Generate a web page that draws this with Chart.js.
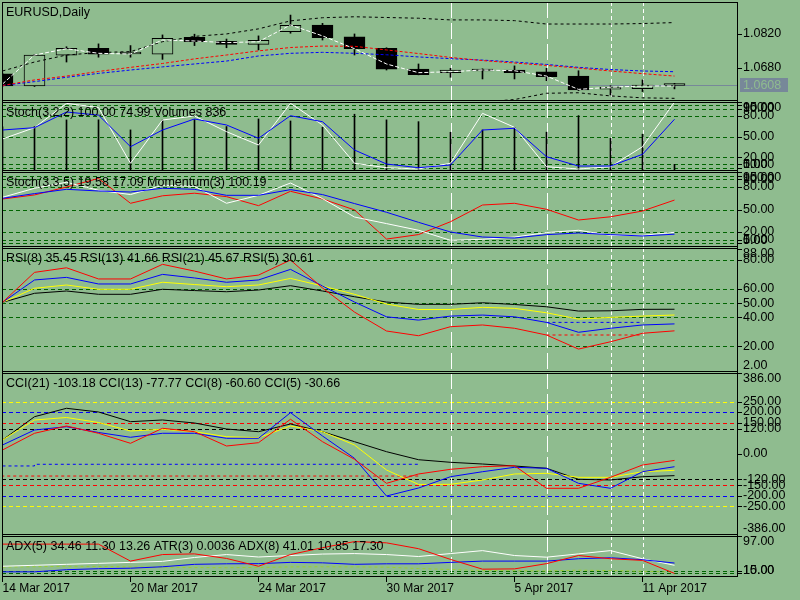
<!DOCTYPE html>
<html>
<head>
<meta charset="utf-8">
<title>EURUSD Daily</title>
<script src="https://cdn.jsdelivr.net/npm/chart.js@4.4.1/dist/chart.umd.min.js"></script>
<style>
  html, body { margin: 0; padding: 0; background: #8fbc8f; }
  #wrap { position: relative; width: 800px; height: 600px; overflow: hidden; }
  #wrap canvas { position: absolute; left: 0; }
  .edge { position: absolute; top: 2px; width: 1px; height: 575px; background: #000; }
</style>
</head>
<body>
<div id="wrap">
  <div class="edge" style="left:2px"></div>
  <div class="edge" style="left:737px"></div>
  <canvas id="main" width="800" height="99" style="top:2px"></canvas>
  <canvas id="stoch1" width="800" height="69" style="top:102px"></canvas>
  <canvas id="stoch2" width="800" height="75" style="top:172px"></canvas>
  <canvas id="rsi" width="800" height="124" style="top:248px"></canvas>
  <canvas id="cci" width="800" height="162" style="top:373px"></canvas>
  <canvas id="adx" width="800" height="64" style="top:536px"></canvas>
</div>
<script>
// ---- data ----
var dates = ['14 Mar 2017', '15 Mar 2017', '16 Mar 2017', '17 Mar 2017', '20 Mar 2017', '21 Mar 2017',
  '22 Mar 2017', '23 Mar 2017', '24 Mar 2017', '27 Mar 2017', '28 Mar 2017', '29 Mar 2017',
  '30 Mar 2017', '31 Mar 2017', '3 Apr 2017', '4 Apr 2017', '5 Apr 2017', '6 Apr 2017',
  '7 Apr 2017', '10 Apr 2017', '11 Apr 2017', '12 Apr 2017'];
var dateTicks = [0, 4, 8, 12, 16, 20];
var sepLong = [14, 17];
var sepShort = [19, 20];

var open  = [1.0655, 1.0605, 1.0732, 1.0761, 1.0737, 1.0736, 1.0806, 1.0790, 1.0777, 1.0829, 1.0857,
             1.0808, 1.0761, 1.0675, 1.0660, 1.0667, 1.0671, 1.0663, 1.0646, 1.0592, 1.0594, 1.0607];
var high  = [1.0658, 1.0735, 1.0767, 1.0779, 1.0772, 1.0816, 1.0819, 1.0799, 1.0812, 1.0898, 1.0864,
             1.0820, 1.0763, 1.0696, 1.0678, 1.0676, 1.0688, 1.0678, 1.0668, 1.0606, 1.0630, 1.0616];
var low   = [1.0603, 1.0603, 1.0704, 1.0724, 1.0724, 1.0715, 1.0772, 1.0763, 1.0754, 1.0823, 1.0795,
             1.0733, 1.0671, 1.0651, 1.0641, 1.0634, 1.0634, 1.0627, 1.0586, 1.0568, 1.0582, 1.0593];
var close = [1.0605, 1.0733, 1.0761, 1.0736, 1.0738, 1.0802, 1.0788, 1.0777, 1.0794, 1.0856, 1.0805,
             1.0759, 1.0674, 1.0652, 1.0671, 1.0675, 1.0660, 1.0644, 1.0589, 1.0600, 1.0609, 1.0608];
var maFast = [1.0613, 1.0733, 1.0759, 1.0740, 1.0737, 1.0795, 1.0791, 1.0784, 1.0788, 1.0857, 1.0812,
              1.0759, 1.0696, 1.0660, 1.0664, 1.0671, 1.0668, 1.0646, 1.0591, 1.0600, 1.0605, 1.0605];
var maMid  = [1.0607, 1.0630, 1.0646, 1.0665, 1.0682, 1.0698, 1.0717, 1.0733, 1.0750, 1.0764, 1.0770,
              1.0769, 1.0754, 1.0739, 1.0723, 1.0710, 1.0700, 1.0690, 1.0679, 1.0667, 1.0656, 1.0646];
var maSlow = [1.0607, 1.0623, 1.0641, 1.0657, 1.0671, 1.0684, 1.0696, 1.0708, 1.0729, 1.0740, 1.0744,
              1.0740, 1.0734, 1.0725, 1.0718, 1.0712, 1.0704, 1.0694, 1.0682, 1.0673, 1.0667, 1.0664];
var bandUpper = [1.0667, 1.0704, 1.0733, 1.0743, 1.0747, 1.0788, 1.0810, 1.0820, 1.0841, 1.0874, 1.0887,
                 1.0891, 1.0888, 1.0885, 1.0878, 1.0878, 1.0875, 1.0861, 1.0861, 1.0861, 1.0863, 1.0867];
var bandLower = [1.0531, 1.0506, 1.0489, 1.0481, 1.0473, 1.0465, 1.0456, 1.0456, 1.0465, 1.0473, 1.0481,
                 1.0489, 1.0498, 1.0514, 1.0527, 1.0539, 1.0549, 1.0575, 1.0577, 1.0564, 1.0556, 1.0554];
var lastPrice = 1.0608;
var priceTicks = [1.0820, 1.0680];

var stochFastMain   = [46.4, 62.8, 98.0, 92.0, 11.2, 73.9, 79.7, 57.0, 37.7, 98.1, 66.7,
                       11.2, 4.8, 2.9, 11.2, 83.6, 63.3, 6.2, 2.9, 6.2, 35.2, 100.00];
var stochFastSignal = [59.4, 62.8, 85.5, 81.0, 35.2, 59.4, 75.4, 66.7, 47.4, 80.1, 71.4,
                       30.4, 10.1, 4.8, 8.7, 59.4, 61.9, 20.7, 7.2, 7.2, 24.2, 74.99];
var volumes = [5512, 5538, 6376, 6391, 5127, 6368, 6402, 5545, 6497, 6243, 5462,
               7086, 6384, 6158, 4837, 5131, 5458, 4846, 6912, 4087, 4593, 836];

var stochMain   = [66.3, 78.3, 86.3, 75.6, 69.9, 82.3, 80.9, 58.3, 68.9, 85.3, 64.5,
                   40.0, 31.2, 22.3, 8.9, 10.3, 13.3, 19.2, 22.3, 15.6, 15.6, 19.58];
var stochSignal = [64.9, 71.2, 76.9, 74.7, 73.3, 78.3, 76.9, 68.9, 68.9, 76.5, 69.9,
                   57.9, 46.3, 32.9, 20.0, 13.3, 12.0, 16.5, 18.7, 16.5, 14.7, 17.09];
var momentum    = [100.24, 100.43, 100.80, 101.20, 100.04, 100.39, 100.51, 100.35, 99.93, 100.60, 100.24,
                   99.73, 98.37, 98.58, 99.18, 99.96, 100.04, 99.76, 99.26, 99.41, 99.68, 100.19];
var oscTicks  = [100, 95, 90, 80, 50, 20, 10, 5, 0];
var oscLevels = [95, 90, 80, 50, 20, 10, 5];

var rsi5  = [50.5, 71.4, 74.6, 66.8, 66.8, 77.0, 72.3, 66.8, 69.5, 80.0, 60.5,
             43.7, 30.5, 27.2, 33.5, 34.7, 32.4, 27.7, 17.9, 23.0, 28.9, 30.61];
var rsi8  = [50.5, 66.1, 67.9, 63.3, 63.3, 70.0, 67.5, 64.5, 66.1, 73.5, 61.9,
             50.7, 40.4, 38.1, 40.9, 41.6, 40.4, 36.5, 29.6, 32.4, 34.7, 35.45];
var rsi13 = [50.5, 60.3, 62.6, 59.6, 59.6, 64.5, 62.9, 61.4, 62.6, 67.2, 61.9,
             56.1, 49.3, 45.5, 45.5, 47.0, 46.3, 43.2, 38.8, 40.0, 40.9, 41.66];
var rsi21 = [50.5, 56.8, 58.4, 56.1, 56.1, 59.6, 58.7, 57.9, 59.1, 62.1, 58.4,
             54.4, 50.7, 49.1, 49.1, 50.2, 49.0, 47.4, 44.4, 44.6, 45.6, 45.67];
var rsiMarkStart = 17;
var rsi5Mark = [27.7, 27.7, 27.7, 27.7];
var rsi8Mark = [36.5, 36.5, 36.5, 36.5];
var rsiTicks  = [88, 80, 60, 50, 40, 20, 2];
var rsiLevels = [80, 60, 50, 40, 20];

var cci21 = [66.7, 177.8, 217.8, 200.2, 154.0, 162.1, 147.8, 119.2, 106.3, 143.0, 106.3,
             58.6, 11.0, -27.2, -39.6, -47.7, -57.2, -68.2, -120.6, -123.9, -108.2, -103.18];
var cci13 = [66.7, 162.0, 174.0, 150.1, 109.6, 117.7, 106.3, 82.5, 77.7, 133.5, 106.3,
             42.9, -76.3, -145.0, -144.4, -123.9, -95.3, -92.0, -111.1, -111.1, -84.4, -77.77];
var cci8  = [42.9, 114.4, 130.1, 102.5, 79.6, 98.7, 98.7, 74.8, 74.8, 196.9, 85.8,
             -20.5, -200.2, -162.1, -108.2, -84.4, -63.4, -68.2, -139.7, -163.5, -84.4, -60.60];
var cci5  = [19.1, 98.7, 133.5, 98.7, 51.0, 122.5, 106.3, 38.1, 53.9, 165.4, 58.6,
             -25.3, -139.7, -95.3, -72.9, -60.5, -55.8, -163.5, -163.5, -111.1, -52.4, -30.66];
var cciMarkBlue = [-57, -57, -49, -49, -49, -49, -49, -49, -49, -49, -49, -49, -49, -49];
var cciMarkRed  = [-111, -105, -105, -105, -105, -105, -105, -105, -105, -105, -105, -105, -105, -105];
var cciTicks  = [386, 250, 200, 150, 120, 0, -120, -150, -200, -250, -386];
var cciLevels = [250, 200, 150, 120, -120, -150, -200, -250];
var cciLevelColors = ['#ffff00', '#0000ff', '#ff0000', '#000000', '#000000', '#ff0000', '#0000ff', '#ffff00'];

var adx5  = [77.8, 77.8, 77.8, 77.8, 37.6, 53.1, 54.7, 43.9, 25.4, 53.1, 69.3,
             83.8, 80.8, 67.0, 41.6, 18.5, 19.2, 31.6, 50.8, 43.2, 39.3, 8.5];
var adx8  = [25.4, 27.7, 30.0, 32.3, 34.6, 37.0, 46.2, 53.1, 47.3, 50.8, 54.3,
             55.4, 53.1, 48.5, 55.4, 62.4, 50.8, 46.9, 54.7, 62.4, 43.2, 27.7];
var diMinus8 = [12.2, 12.2, 17.3, 19.6, 20.8, 24.2, 30.0, 31.2, 31.6, 34.6, 33.5,
                30.0, 31.2, 31.2, 34.6, 37.6, 37.6, 37.6, 43.2, 45.5, 40.9, 33.0];
var atr3 = [0.0072, 0.0075, 0.0079, 0.0077, 0.0074, 0.0071, 0.0069, 0.0068, 0.0070, 0.0074, 0.0075,
            0.0074, 0.0072, 0.0062, 0.0055, 0.0048, 0.0046, 0.0044, 0.0050, 0.0047, 0.0042, 0.0036];
var adxTicks  = [97, 15, 10];
var adxLevels = [15, 10];

// ---- drawing ----
var BG = '#8fbc8f';
var LEVEL = '#006400';
var FAMILY = '"Liberation Sans", Arial, sans-serif';
var TEXT_SIZE = 12.5;
var panelExtras = {};

function last(a) { return a[a.length - 1]; }
function f2(v) { return v.toFixed(2); }

function pts(arr, start) {
  start = start || 0;
  return arr.map(function (v, i) { return { x: i + start, y: v }; });
}

function line(arr, color, axis, dash, start) {
  return {
    type: 'line', data: pts(arr, start), yAxisID: axis || 'y',
    borderColor: color, borderWidth: 1, borderDash: dash || [],
    pointRadius: 0, tension: 0, fill: false, order: 0
  };
}

function yScale(min, max) {
  return { type: 'linear', display: false, min: min, max: max, beginAtZero: false };
}

function xScale(show) {
  return {
    type: 'linear', min: -1 / 64, max: 23 - 1 / 64, offset: false, display: show,
    grid: { display: true, drawOnChartArea: false, drawTicks: true, tickLength: 5, tickColor: '#000', color: '#000' },
    border: { display: false },
    ticks: {
      autoSkip: false, maxRotation: 0, minRotation: 0, align: 'start', padding: -1,
      color: '#000', font: { family: FAMILY, size: 12 },
      callback: function (v) { return dates[v]; }
    },
    afterBuildTicks: function (s) { s.ticks = dateTicks.map(function (v) { return { value: v }; }); },
    afterFit: function (s) { if (show) s.height = 23; s.paddingLeft = 0; s.paddingRight = 0; }
  };
}

function vline(ctx, a, px, dash) {
  ctx.setLineDash(dash);
  ctx.beginPath();
  ctx.moveTo(px, a.top);
  ctx.lineTo(px, a.bottom);
  ctx.stroke();
}

var overlay = {
  id: 'mt4overlay',
  beforeDatasetsDraw: function (chart) {
    var ex = panelExtras[chart.canvas.id], a = chart.chartArea, ctx = chart.ctx;
    var ys = chart.scales.y, xs = chart.scales.x;
    ctx.save();
    ctx.lineWidth = 1;
    (ex.levels || []).forEach(function (v, k) {
      var py = Math.round(ys.getPixelForValue(v)) + 0.5;
      ctx.strokeStyle = ex.levelColors ? ex.levelColors[k] : LEVEL;
      ctx.setLineDash([4, 3]);
      ctx.beginPath(); ctx.moveTo(a.left, py); ctx.lineTo(a.right, py); ctx.stroke();
    });
    if (ex.price !== undefined) {
      var pp = Math.round(ys.getPixelForValue(ex.price)) + 0.5;
      ctx.strokeStyle = '#778899';
      ctx.setLineDash([]);
      ctx.beginPath(); ctx.moveTo(a.left, pp); ctx.lineTo(a.right, pp); ctx.stroke();
    }
    ctx.strokeStyle = '#ffffff';
    sepLong.forEach(function (v) { vline(ctx, a, Math.round(xs.getPixelForValue(v)) + 0.5, [16, 5]); });
    sepShort.forEach(function (v) { vline(ctx, a, Math.round(xs.getPixelForValue(v)) + 0.5, [4, 3]); });
    ctx.restore();
  },
  afterDraw: function (chart) {
    var ex = panelExtras[chart.canvas.id], a = chart.chartArea, ctx = chart.ctx;
    var ys = chart.scales.y;
    ctx.save();
    ctx.lineWidth = 1;
    ctx.strokeStyle = '#000';
    ctx.setLineDash([]);
    ctx.strokeRect(a.left + 0.5, a.top + 0.5, a.right - a.left - 1, a.bottom - a.top - 1);
    ctx.font = TEXT_SIZE + 'px ' + FAMILY;
    ctx.fillStyle = '#000';
    ctx.textBaseline = 'middle';
    ctx.textAlign = 'left';
    ex.ticks.forEach(function (v) {
      var py = ys.getPixelForValue(v);
      var ty = Math.round(py) + 0.5;
      ctx.beginPath(); ctx.moveTo(a.right, ty); ctx.lineTo(a.right + 4, ty); ctx.stroke();
      var ly = Math.max(a.top + 6, Math.min(a.bottom - 6, py));
      ctx.fillText(v.toFixed(ex.decimals), a.right + 5, ly);
    });
    if (ex.price !== undefined) {
      var pp = ys.getPixelForValue(ex.price);
      ctx.fillStyle = '#778899';
      ctx.fillRect(a.right + 2, Math.round(pp) - 7, 48, 14);
      ctx.fillStyle = BG;
      ctx.fillText(ex.price.toFixed(4), a.right + 5, pp);
    }
    ctx.fillStyle = '#000';
    ctx.fillText(ex.title, a.left + 4, a.top + 11);
    ctx.restore();
  }
};

function makePanel(id, datasets, scales, extras, showX) {
  panelExtras[id] = extras;
  var sc = { x: xScale(!!showX) };
  Object.keys(scales).forEach(function (k) { sc[k] = scales[k]; });
  return new Chart(document.getElementById(id), {
    type: 'line',
    data: { datasets: datasets },
    options: {
      responsive: false, animation: false, events: [],
      layout: { padding: { left: 2, right: 62, top: 0, bottom: 0 }, autoPadding: false },
      plugins: { legend: { display: false }, tooltip: { enabled: false } },
      scales: sc
    },
    plugins: [overlay]
  });
}

// main price window
makePanel('main', [
  line(maFast, '#ffffff', 'y', [4, 2]),
  line(maMid, '#ff0000', 'y', [3, 2]),
  line(maSlow, '#0000ff', 'y', [3, 2]),
  line(bandUpper, '#000000', 'y', [3, 3]),
  line(bandLower, '#000000', 'y', [3, 3]),
  {
    type: 'bar', order: 1, grouped: false, barThickness: 21, minBarLength: 2,
    data: open.map(function (o, i) { return { x: i, y: [o, close[i]] }; }),
    backgroundColor: function (c) { return close[c.dataIndex] >= open[c.dataIndex] ? BG : '#000'; },
    borderColor: '#000', borderWidth: 1, borderSkipped: false
  },
  {
    type: 'bar', order: 2, grouped: false, barThickness: 1,
    data: low.map(function (l, i) { return { x: i, y: [l, high[i]] }; }),
    backgroundColor: '#000'
  }
], { y: yScale(1.0543, 1.0952) },
  { title: 'EURUSD,Daily', ticks: priceTicks, decimals: 4, price: lastPrice });

// Stoch(3,2,2) + Volumes
makePanel('stoch1', [
  line(stochFastSignal, '#0000ff'),
  line(stochFastMain, '#ffffff'),
  {
    type: 'bar', order: 3, grouped: false, barThickness: 1, yAxisID: 'vol',
    data: pts(volumes), backgroundColor: '#000'
  }
], { y: yScale(0, 100), vol: yScale(0, 8610) },
  { title: 'Stoch(3,2,2) ' + f2(last(stochFastMain)) + ' ' + f2(last(stochFastSignal)) + ' Volumes ' + last(volumes),
    ticks: oscTicks, levels: oscLevels, decimals: 2 });

// Stoch(3,3,5) + Momentum(3)
makePanel('stoch2', [
  line(stochSignal, '#0000ff'),
  line(stochMain, '#ffffff'),
  line(momentum, '#ff0000', 'mom')
], { y: yScale(0, 100), mom: yScale(98, 101.5) },
  { title: 'Stoch(3,3,5) ' + f2(last(stochMain)) + ' ' + f2(last(stochSignal)) + ' Momentum(3) ' + f2(last(momentum)),
    ticks: oscTicks, levels: oscLevels, decimals: 2 });

// RSI
makePanel('rsi', [
  line(rsi5, '#ff0000'),
  line(rsi8, '#0000ff'),
  line(rsi13, '#ffff00'),
  line(rsi21, '#000000'),
  line(rsi5Mark, '#ff0000', 'y', [3, 3], rsiMarkStart),
  line(rsi8Mark, '#0000ff', 'y', [3, 3], rsiMarkStart)
], { y: yScale(1.9, 88.4) },
  { title: 'RSI(8) ' + f2(last(rsi8)) + ' RSI(13) ' + f2(last(rsi13)) + ' RSI(21) ' + f2(last(rsi21)) + ' RSI(5) ' + f2(last(rsi5)),
    ticks: rsiTicks, levels: rsiLevels, decimals: 2 });

// CCI
var cciMarkBlueSet = line(cciMarkBlue, '#0000ff', 'y', [3, 3]);
cciMarkBlueSet.stepped = 'after';
var cciMarkRedSet = line(cciMarkRed, '#ff0000', 'y', [3, 3]);
cciMarkRedSet.stepped = 'after';
makePanel('cci', [
  line(cci5, '#ff0000'),
  line(cci8, '#0000ff'),
  line(cci13, '#ffff00'),
  line(cci21, '#000000'),
  cciMarkBlueSet,
  cciMarkRedSet
], { y: yScale(-386, 386) },
  { title: 'CCI(21) ' + f2(last(cci21)) + ' CCI(13) ' + f2(last(cci13)) + ' CCI(8) ' + f2(last(cci8)) + ' CCI(5) ' + f2(last(cci5)),
    ticks: cciTicks, levels: cciLevels, levelColors: cciLevelColors, decimals: 2 });

// ADX / ATR
makePanel('adx', [
  line(adx5, '#ff0000'),
  line(diMinus8, '#0000ff'),
  line(adx8, '#ffffff'),
  line(atr3, '#9acd32', 'atr', [3, 3])
], { y: yScale(0, 97), atr: yScale(0, 0.03) },
  { title: 'ADX(5) 34.46 11.30 13.26 ATR(3) ' + last(atr3).toFixed(4) + ' ADX(8) 41.01 10.85 17.30',
    ticks: adxTicks, levels: adxLevels, decimals: 2 }, true);
</script>
</body>
</html>
